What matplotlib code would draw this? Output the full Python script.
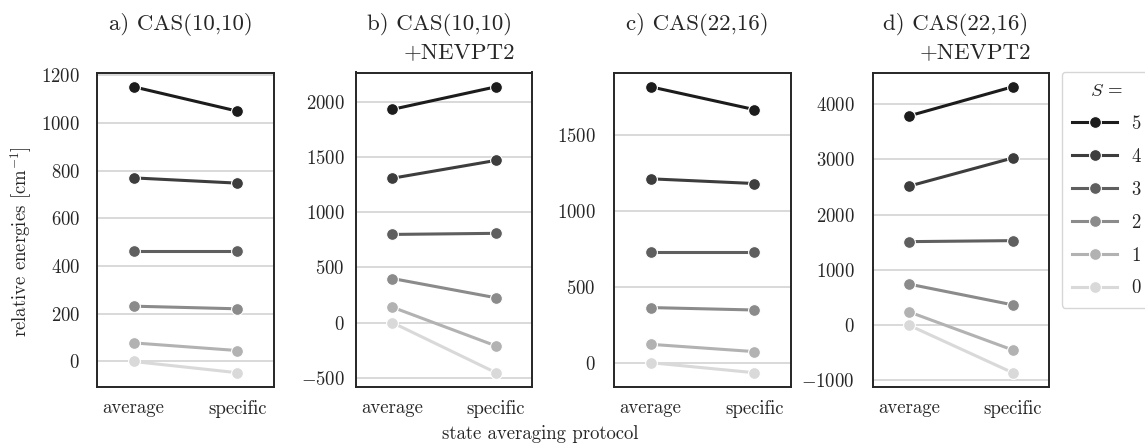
import matplotlib
matplotlib.use("Agg")
import matplotlib.pyplot as plt
import numpy as np

plt.rcParams['font.family'] = 'serif'
plt.rcParams['font.serif'] = ['cmr10', 'DejaVu Serif']
plt.rcParams['mathtext.fontset'] = 'cm'
plt.rcParams['axes.formatter.use_mathtext'] = True
plt.rcParams['axes.unicode_minus'] = True

protocols = ["average", "specific"]
spins = [5, 4, 3, 2, 1, 0]
title_main = ["a) CAS(10,10)", "b) CAS(10,10)", "c) CAS(22,16)", "d) CAS(22,16)"]
title_sub = ["", "+NEVPT2", "", "+NEVPT2"]

# relative energies [cm^-1], rows: S=5..0, columns: average, specific
cas1010 = [[1152, 1050], [770, 748], [462, 462], [232, 221], [78, 46], [0, -47]]
cas1010_nevpt2 = [[1935, 2140], [1310, 1472], [800, 810], [400, 225], [140, -212], [0, -455]]
cas2216 = [[1817, 1667], [1211, 1180], [727, 727], [363, 347], [121, 73], [0, -66]]
cas2216_nevpt2 = [[3788, 4315], [2517, 3026], [1513, 1531], [744, 369], [242, -448], [0, -859]]

yticks = [
    [0, 200, 400, 600, 800, 1000, 1200],
    [-500, 0, 500, 1000, 1500, 2000],
    [0, 500, 1000, 1500],
    [-1000, 0, 1000, 2000, 3000, 4000],
]

colors = ["#1c1c1c", "#3d3d3d", "#5f5f5f", "#8b8b8b", "#b2b2b2", "#d9d9d9"]
TXT = '#262626'

W, H = 1145, 445
fig = plt.figure(figsize=(W / 100, H / 100), dpi=100)
lefts = [97.3, 356, 614.3, 872.7]
ypads = [12.5, 8.0, 13.5, 13.0]
aw = 176.3
top, bottom = 72.5, 387
axes = []
datasets = [cas1010, cas1010_nevpt2, cas2216, cas2216_nevpt2]
for i, (l, data) in enumerate(zip(lefts, datasets)):
    ax = fig.add_axes([l / W, (H - bottom) / H, aw / W, (bottom - top) / H])
    x = np.arange(len(protocols))
    handles = []
    for s, vals, c in zip(spins, data, colors):
        h, = ax.plot(x, vals, color=c, lw=2.2, marker='o', ms=8.5,
                     mec='white', mew=0.8, label=str(s), zorder=3)
        handles.append(h)
    allv = np.array(data)
    lo, hi = allv.min(), allv.max()
    m = 0.05 * (hi - lo)
    ax.set_ylim(lo - m, hi + m)
    ax.set_xlim(-0.35, 1.35)
    ax.set_xticks(x)
    ax.set_xticklabels(protocols)
    ax.set_yticks(yticks[i])
    ax.grid(axis='y', color='#cfcfcf', lw=1.1, zorder=0)
    ax.set_axisbelow(True)
    for sp in ax.spines.values():
        sp.set_color(TXT)
        sp.set_linewidth(1.4)
    ax.tick_params(axis='both', length=0, labelsize=13.5, colors=TXT)
    ax.tick_params(axis='y', pad=ypads[i])
    ax.tick_params(axis='x', pad=9)
    cx = l + aw / 2
    fig.text((cx - 5) / W, 1 - 30 / H, title_main[i], ha='center', va='baseline',
             fontsize=16.5, color=TXT)
    if title_sub[i]:
        fig.text((cx + 15) / W, 1 - 58 / H, title_sub[i], ha='center', va='baseline',
                 fontsize=16.5, color=TXT)
    axes.append(ax)

axes[0].set_ylabel(r"relative energies [cm$^{-1}$]", fontsize=13.5, color=TXT, labelpad=6)
axes[0].yaxis.set_label_coords(-0.36, 0.464)
fig.text(540 / W, 1 - 434 / H, "state averaging protocol", ha='center', va='center',
         fontsize=13.5, color=TXT)

leg = fig.legend(handles=handles, labels=[str(s) for s in spins], title=r"$S$ =",
                 loc='upper left', bbox_to_anchor=(1061.7 / W, 1 - 71.7 / H),
                 borderaxespad=0, fontsize=13.5, title_fontsize=13.5, frameon=True,
                 fancybox=True, handlelength=2.4, borderpad=0.55, labelspacing=0.8,
                 handletextpad=0.75)
leg.get_frame().set_edgecolor('#cccccc')
leg.get_title().set_color(TXT)
for t in leg.get_texts():
    t.set_color(TXT)

fig.savefig("out.png", dpi=100)
